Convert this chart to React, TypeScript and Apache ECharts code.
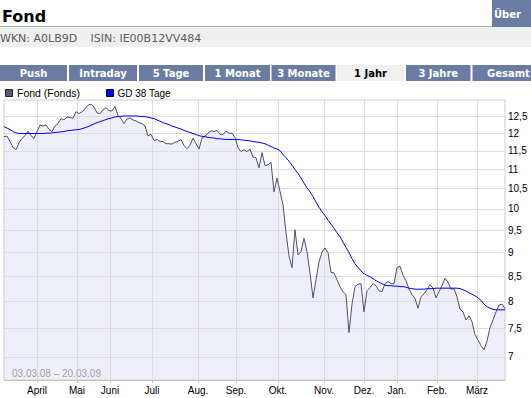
import React, { useEffect, useRef } from 'react';
import * as echarts from 'echarts';

// Fund price (one sample per step along the time axis, 03.03.08 – 20.03.09)
const fund = [
  11.90, 11.92, 11.76, 11.59, 11.53, 11.73, 11.85, 11.93, 12.06, 11.93,
  11.85, 12.05, 12.24, 12.21, 12.24, 12.11, 12.05, 12.21, 12.28, 12.43,
  12.39, 12.48, 12.46, 12.44, 12.64, 12.58, 12.63, 12.73, 12.84, 12.87,
  12.78, 12.60, 12.58, 12.70, 12.76, 12.67, 12.66, 12.80, 12.52, 12.44,
  12.28, 12.42, 12.45, 12.39, 12.36, 12.31, 12.28, 12.21, 11.92, 11.97,
  11.79, 11.82, 11.77, 11.76, 11.70, 11.70, 11.69, 11.74, 11.77, 11.82,
  11.65, 11.56, 11.66, 11.86, 11.70, 11.55, 11.86, 11.92, 12.00, 12.07,
  12.05, 12.08, 11.97, 11.96, 12.06, 12.00, 12.00, 11.87, 11.59, 11.48,
  11.53, 11.48, 11.55, 11.33, 11.31, 11.04, 11.45, 11.10, 11.12, 11.19,
  10.42, 10.77, 10.43, 10.10, 9.44, 8.93, 8.68, 9.51, 8.95, 9.02,
  9.32, 9.02, 8.57, 8.07, 8.43, 8.80, 9.01, 9.10, 9.00, 8.58,
  8.57, 8.43, 8.29, 8.19, 8.13, 7.42, 7.95, 8.29, 8.34, 8.35,
  7.80, 8.21, 8.27, 8.35, 8.31, 8.21, 8.19, 8.35, 8.39, 8.35,
  8.35, 8.68, 8.71, 8.52, 8.41, 8.24, 8.13, 8.06, 7.87, 8.09,
  8.15, 8.23, 8.33, 8.26, 8.07, 8.19, 8.31, 8.46, 8.38, 8.24,
  8.25, 8.09, 7.85, 7.80, 7.65, 7.73, 7.62, 7.38, 7.29, 7.19,
  7.12, 7.27, 7.51, 7.65, 7.80, 7.93, 7.95, 7.86,
];

// 38-day moving average
const gd38 = [
  12.19, 12.15, 12.11, 12.05, 12.01, 11.99, 11.99, 11.99, 11.99, 11.99,
  11.99, 11.99, 11.99, 11.99, 12.00, 12.00, 12.01, 12.02, 12.03, 12.04,
  12.05, 12.07, 12.08, 12.09, 12.10, 12.11, 12.13, 12.16, 12.19, 12.23,
  12.27, 12.31, 12.34, 12.37, 12.40, 12.43, 12.45, 12.48, 12.49, 12.50,
  12.51, 12.51, 12.51, 12.51, 12.51, 12.50, 12.49, 12.49, 12.47, 12.45,
  12.43, 12.39, 12.35, 12.31, 12.28, 12.25, 12.21, 12.18, 12.15, 12.12,
  12.08, 12.05, 12.02, 11.99, 11.96, 11.93, 11.91, 11.90, 11.88, 11.87,
  11.86, 11.84, 11.84, 11.83, 11.82, 11.82, 11.82, 11.82, 11.82, 11.81,
  11.80, 11.79, 11.78, 11.76, 11.75, 11.74, 11.72, 11.70, 11.66, 11.62,
  11.58, 11.55, 11.51, 11.40, 11.31, 11.22, 11.11, 10.99, 10.89, 10.77,
  10.64, 10.52, 10.42, 10.30, 10.17, 10.04, 9.93, 9.84, 9.73, 9.64,
  9.54, 9.44, 9.35, 9.23, 9.11, 9.00, 8.87, 8.76, 8.68, 8.61,
  8.55, 8.52, 8.49, 8.45, 8.41, 8.38, 8.35, 8.32, 8.31, 8.31,
  8.30, 8.30, 8.29, 8.29, 8.28, 8.26, 8.25, 8.24, 8.24, 8.24,
  8.24, 8.25, 8.25, 8.25, 8.26, 8.26, 8.26, 8.26, 8.26, 8.26,
  8.26, 8.26, 8.25, 8.23, 8.20, 8.17, 8.14, 8.11, 8.07, 8.02,
  7.95, 7.90, 7.87, 7.85, 7.84, 7.84, 7.84, 7.84,
];

// Month boundaries (position on the sample axis) and their labels
const monthLabels = ['April', 'Mai', 'Juni', 'Juli', 'Aug.', 'Sep.', 'Okt.', 'Nov.', 'Dez.', 'Jan.', 'Feb.', 'März'];
const monthPos = [11, 24.33, 35.33, 49.33, 64.67, 77.33, 91.33, 106.67, 120, 131, 144.33, 157.67];

// Price axis (logarithmic) ticks and range
const yTicks = [7, 7.5, 8, 8.5, 9, 9.5, 10, 10.5, 11, 11.5, 12, 12.5];
const yMin = 6.62;
const yMax = 13.0;

const tabLabels = ['Push', 'Intraday', '5 Tage', '1 Monat', '3 Monate', '1 Jahr', '3 Jahre', 'Gesamt'];
const activeTab = '1 Jahr';
const dateRange = '03.03.08 – 20.03.09';

const AXIS_FONT = '"Liberation Sans", Arial, sans-serif';
const HEAD_FONT = '"DejaVu Sans", Verdana, sans-serif';

// layout of the tab strip
const tabBoxes = [
  [0, 67], [69, 68], [139, 64], [205, 65], [271.5, 64], [337, 67], [406, 64.5], [472.5, 60],
];

export default function App() {
  const ref = useRef<HTMLDivElement>(null);

  useEffect(() => {
    if (!ref.current) return;
    const chart = echarts.init(ref.current, null, { renderer: 'svg' });

    const fundData = fund.map((v, i) => [i, Math.log(v)]);
    const gdData = gd38.map((v, i) => [i, Math.log(v)]);

    const graphic: any[] = [];
    // title
    graphic.push({
      type: 'text', x: 2, y: 16,
      style: { text: 'Fond', font: `bold 16px ${HEAD_FONT}`, fill: '#000', textVerticalAlign: 'middle', verticalAlign: 'middle' },
    });
    graphic.push({
      type: 'line', shape: { x1: 0, y1: 26.5, x2: 492, y2: 26.5 },
      style: { stroke: '#a3b3a3', lineWidth: 1 },
    });
    graphic.push({ type: 'rect', shape: { x: 492, y: 0, width: 39, height: 27 }, style: { fill: '#6b7ca3' } });
    graphic.push({
      type: 'text', x: 494, y: 14.5,
      style: { text: 'Über', font: `bold 10px ${HEAD_FONT}`, fill: '#fff', textVerticalAlign: 'middle', verticalAlign: 'middle' },
    });
    // info band
    graphic.push({ type: 'rect', shape: { x: 0, y: 27, width: 531, height: 20 }, style: { fill: '#efefef' } });
    graphic.push({
      type: 'text', x: 0, y: 38,
      style: { text: 'WKN: A0LB9D', font: `11px ${HEAD_FONT}`, fill: '#5a5a5a', textVerticalAlign: 'middle', verticalAlign: 'middle' },
    });
    graphic.push({
      type: 'text', x: 90.5, y: 38,
      style: { text: 'ISIN: IE00B12VV484', font: `11px ${HEAD_FONT}`, fill: '#5a5a5a', textVerticalAlign: 'middle', verticalAlign: 'middle' },
    });
    // tabs
    tabLabels.forEach((t, i) => {
      const [x, w] = tabBoxes[i];
      const active = t === activeTab;
      graphic.push({ type: 'rect', shape: { x, y: 65, width: w, height: 16 }, style: { fill: active ? '#f0f0f0' : '#6b7ca3' } });
      const last = i === tabLabels.length - 1;
      graphic.push({
        type: 'text', x: last ? 487 : x + w / 2, y: 73,
        style: {
          text: t, font: `bold 10px ${HEAD_FONT}`, fill: active ? '#000' : '#fff',
          textAlign: last ? 'left' : 'center', align: last ? 'left' : 'center',
          textVerticalAlign: 'middle', verticalAlign: 'middle',
        },
      });
    });
    // legend
    graphic.push({ type: 'rect', shape: { x: 5.5, y: 89.5, width: 7, height: 7 }, style: { fill: '#5c5c72', stroke: '#222', lineWidth: 1 } });
    graphic.push({
      type: 'text', x: 17, y: 93,
      style: { text: 'Fond (Fonds)', font: `10.5px ${AXIS_FONT}`, fill: '#000', textVerticalAlign: 'middle', verticalAlign: 'middle' },
    });
    graphic.push({ type: 'rect', shape: { x: 106.5, y: 89.5, width: 7, height: 7 }, style: { fill: '#0000ff', stroke: '#000033', lineWidth: 1 } });
    graphic.push({
      type: 'text', x: 117.5, y: 93,
      style: { text: 'GD 38 Tage', font: `10px ${AXIS_FONT}`, fill: '#000', textVerticalAlign: 'middle', verticalAlign: 'middle' },
    });
    // date range
    graphic.push({
      type: 'text', x: 12, y: 373, z: 10,
      style: { text: dateRange, font: `10px ${AXIS_FONT}`, fill: '#a0a0a8', textVerticalAlign: 'middle', verticalAlign: 'middle' },
    });

    chart.setOption({
      animation: false,
      backgroundColor: '#fff',
      grid: {
        left: 4, right: 26, top: 100, bottom: 18,
        show: true, borderColor: '#cfcfcf', borderWidth: 1, backgroundColor: 'transparent', z: 3,
      },
      xAxis: {
        type: 'value', min: 0, max: fund.length - 1, z: 3,
        axisLine: { show: true, lineStyle: { color: '#c4c4c4', width: 1 } },
        axisTick: { show: true, length: 3, customValues: monthPos, lineStyle: { color: '#c4c4c4' } },
        splitLine: { show: true, lineStyle: { color: '#dddddd', width: 1 } },
        axisLabel: {
          customValues: monthPos, margin: 5, color: '#000', fontSize: 10, fontFamily: AXIS_FONT,
          formatter: (v: number) => {
            const k = monthPos.findIndex((p) => Math.abs(p - v) < 0.01);
            return k >= 0 ? monthLabels[k] : '';
          },
        },
      },
      yAxis: {
        type: 'value', position: 'right', min: Math.log(yMin), max: Math.log(yMax), z: 3,
        axisLine: { show: false },
        axisTick: { show: false, customValues: yTicks.map(Math.log) },
        splitLine: { show: true, lineStyle: { color: '#dddddd', width: 1 } },
        axisLabel: {
          customValues: yTicks.map(Math.log), margin: 3, color: '#000', fontSize: 10, fontFamily: AXIS_FONT,
          formatter: (v: number) => String(Math.round(Math.exp(v) * 2) / 2).replace('.', ','),
        },
      },
      series: [
        {
          type: 'line', name: 'Fond area', data: fundData, symbol: 'none', silent: true, z: 1,
          lineStyle: { width: 0, opacity: 0 },
          areaStyle: { color: '#efeffc', opacity: 1, origin: 'start' },
        },
        {
          type: 'line', name: 'Fond (Fonds)', data: fundData, symbol: 'none', z: 5,
          lineStyle: { color: '#4f4f6a', width: 1 },
        },
        {
          type: 'line', name: 'GD 38 Tage', data: gdData, symbol: 'none', z: 6,
          lineStyle: { color: '#0000ff', width: 1 },
        },
      ],
      graphic,
    });

    return () => chart.dispose();
  }, []);

  return (
    <div
      ref={ref}
      style={{ position: 'fixed', left: 0, top: 0, width: 531, height: 398, background: '#fff' }}
    />
  );
}
